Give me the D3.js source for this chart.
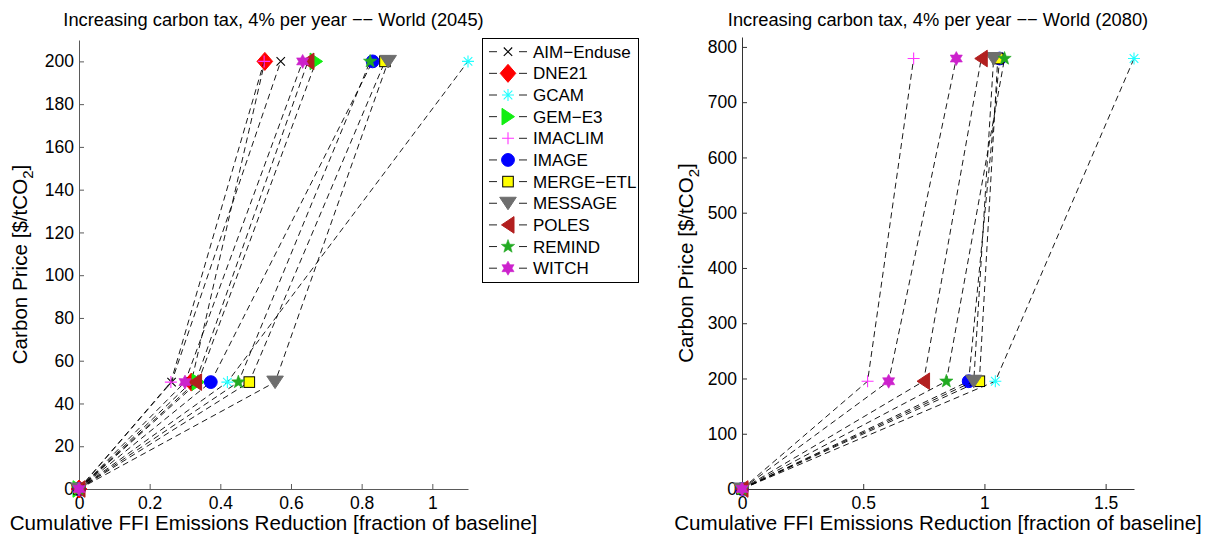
<!DOCTYPE html>
<html>
<head>
<meta charset="utf-8">
<script src="https://cdn.jsdelivr.net/npm/d3@7"></script>
<style>
    body { margin: 0; background: #fff; }
    text { font-family: "Liberation Sans", Arial, sans-serif; fill: #000; }
</style>
</head>
<body>
<svg id="canvas" width="1217" height="535"></svg>
<script>
// models and their legend order
var models = ["AIM−Enduse", "DNE21", "GCAM", "GEM−E3", "IMACLIM", "IMAGE", "MERGE−ETL", "MESSAGE", "POLES", "REMIND", "WITCH"];

// 2045 panel: carbon price and cumulative reduction per model
var prices2045 = [0, 50, 200];
var cut2045Low = [0.262, 0.318, 0.420, 0.337, 0.260, 0.373, 0.482, 0.555, 0.330, 0.451, 0.300];
var cut2045High = [0.571, 0.526, 1.101, 0.671, 0.524, 0.831, 0.866, 0.875, 0.648, 0.824, 0.633];

// 2080 panel: only some models run that far
var models2080 = ["GCAM", "IMACLIM", "IMAGE", "MERGE−ETL", "MESSAGE", "POLES", "REMIND", "WITCH"];
var prices2080 = [0, 195, 779];
var cut2080Low = [1.045, 0.518, 0.935, 0.979, 0.956, 0.749, 0.843, 0.605];
var cut2080High = [1.617, 0.708, 1.063, 1.055, 1.038, 0.987, 1.083, 0.884];

var xTicks2045 = [0, 0.2, 0.4, 0.6, 0.8, 1];
var yTicks2045 = [0, 20, 40, 60, 80, 100, 120, 140, 160, 180, 200];
var xTicks2080 = [0, 0.5, 1, 1.5];
var yTicks2080 = [0, 100, 200, 300, 400, 500, 600, 700, 800];

var titles = ["Increasing carbon tax, 4% per year \u2212\u2212 World (2045)", "Increasing carbon tax, 4% per year \u2212\u2212 World (2080)"];
var xLabel = "Cumulative FFI Emissions Reduction [fraction of baseline]";

// marker style per model (matlab like)
var markerStyle = {
    "AIM−Enduse": {shape: "x", color: "#000000"},
    "DNE21": {shape: "d", color: "#ff0000"},
    "GCAM": {shape: "*", color: "#22ffff"},
    "GEM−E3": {shape: ">", color: "#11ee11"},
    "IMACLIM": {shape: "+", color: "#ff33ff"},
    "IMAGE": {shape: "o", color: "#0000ff"},
    "MERGE−ETL": {shape: "s", color: "#ffff00"},
    "MESSAGE": {shape: "v", color: "#6e6e6e"},
    "POLES": {shape: "<", color: "#b21f1f"},
    "REMIND": {shape: "p", color: "#22aa22"},
    "WITCH": {shape: "h", color: "#cc22cc"}
};

var svg = d3.select("#canvas");

function starPoints(n, rOut, rIn) {
    var pts = [];
    for (var i = 0; i < 2 * n; i++) {
        var r = (i % 2 === 0) ? rOut : rIn;
        var a = -Math.PI / 2 + i * Math.PI / n;
        pts.push([r * Math.cos(a), r * Math.sin(a)]);
    }
    return "M" + pts.map(function (p) { return p[0].toFixed(2) + "," + p[1].toFixed(2); }).join("L") + "Z";
}

function drawMarker(parent, name, cx, cy) {
    var st = markerStyle[name];
    var g = parent.append("g").attr("transform", "translate(" + cx + "," + cy + ")");
    var c = st.color;
    if (st.shape === "x") {
        g.append("path").attr("d", "M-4.2,-4.2L4.2,4.2M-4.2,4.2L4.2,-4.2")
            .attr("stroke", c).attr("stroke-width", 1.1).attr("fill", "none");
    } else if (st.shape === "+") {
        g.append("path").attr("d", "M-6,0L6,0M0,-6L0,6")
            .attr("stroke", c).attr("stroke-width", 1.1).attr("fill", "none");
    } else if (st.shape === "*") {
        g.append("path").attr("d", "M-6,0L6,0M0,-6L0,6M-4.3,-4.3L4.3,4.3M-4.3,4.3L4.3,-4.3")
            .attr("stroke", c).attr("stroke-width", 1.1).attr("fill", "none");
    } else if (st.shape === "d") {
        g.append("path").attr("d", "M0,-9L7.8,0L0,9L-7.8,0Z").attr("fill", c).attr("stroke", c);
    } else if (st.shape === ">") {
        g.append("path").attr("d", "M6.5,0L-6,-8.3L-6,8.3Z").attr("fill", c).attr("stroke", c);
    } else if (st.shape === "<") {
        g.append("path").attr("d", "M-6.5,0L6,-8.3L6,8.3Z").attr("fill", c).attr("stroke", c);
    } else if (st.shape === "v") {
        g.append("path").attr("d", "M-8.3,-6L8.3,-6L0,6.5Z").attr("fill", c).attr("stroke", c);
    } else if (st.shape === "o") {
        g.append("circle").attr("r", 6.4).attr("fill", c).attr("stroke", c);
    } else if (st.shape === "s") {
        g.append("rect").attr("x", -5.3).attr("y", -5.3).attr("width", 10.6).attr("height", 10.6)
            .attr("fill", c).attr("stroke", "#000").attr("stroke-width", 1);
    } else if (st.shape === "p") {
        g.append("path").attr("d", starPoints(5, 7, 2.9)).attr("fill", c).attr("stroke", c).attr("stroke-width", 0.6);
    } else if (st.shape === "h") {
        g.append("path").attr("d", starPoints(6, 7, 4)).attr("fill", c).attr("stroke", c).attr("stroke-width", 0.6);
    }
}

function drawPanel(opt) {
    var maxX = d3.max(opt.high);
    var maxY = d3.max(opt.prices) * 1.05;
    var x = d3.scaleLinear().domain([0, maxX]).range([opt.left, opt.right]);
    var y = d3.scaleLinear().domain([0, maxY]).range([489, opt.top]);
    var panel = svg.append("g");

    var xAxis = panel.append("g").attr("transform", "translate(0,489)")
        .call(d3.axisBottom(x).tickValues(opt.xTicks).tickFormat(d3.format("~g"))
            .tickSizeInner(-5).tickSizeOuter(0).tickPadding(8));
    var yAxis = panel.append("g").attr("transform", "translate(" + opt.left + ",0)")
        .call(d3.axisLeft(y).tickValues(opt.yTicks).tickFormat(d3.format("~g"))
            .tickSizeInner(-5).tickSizeOuter(0).tickPadding(5));
    [xAxis, yAxis].forEach(function (a) {
        a.select(".domain").attr("stroke", opt.axisColor);
        a.selectAll(".tick line").attr("stroke", opt.axisColor);
        a.selectAll("text").style("font-size", "17.5px").attr("fill", "#000");
    });

    panel.append("text").attr("x", (opt.left + opt.right) / 2).attr("y", 26)
        .attr("text-anchor", "middle").style("font-size", "18.3px").text(opt.title);
    panel.append("text").attr("x", (opt.left + opt.right) / 2).attr("y", 530)
        .attr("text-anchor", "middle").style("font-size", "20.6px").text(xLabel);

    var yl = panel.append("text")
        .attr("transform", "translate(" + opt.ylabelX + "," + (489 + opt.top) / 2 + ") rotate(-90)")
        .attr("text-anchor", "middle").style("font-size", "20.6px");
    yl.append("tspan").text("Carbon Price [$/tCO");
    yl.append("tspan").attr("dy", 6).style("font-size", "15px").text("2");
    yl.append("tspan").attr("dy", -6).text("]");

    var line = d3.line().x(function (d) { return x(d[0]); }).y(function (d) { return y(d[1]); });
    opt.models.forEach(function (m, i) {
        var pts = [[0, opt.prices[0]], [opt.low[i], opt.prices[1]], [opt.high[i], opt.prices[2]]];
        var g = panel.append("g").attr("class", "model-series");
        g.append("path").attr("d", line(pts)).attr("fill", "none")
            .attr("stroke", "#000").attr("stroke-width", 0.9).attr("stroke-dasharray", "6,4");
        pts.forEach(function (p) {
            drawMarker(g, m, x(p[0]), y(p[1]));
        });
    });
}

drawPanel({
    left: 79, right: 468, top: 40, ylabelX: 27, axisColor: "#5a5a5a",
    models: models, prices: prices2045, low: cut2045Low, high: cut2045High,
    xTicks: xTicks2045, yTicks: yTicks2045, title: titles[0]
});

drawPanel({
    left: 742, right: 1134, top: 37, ylabelX: 693, axisColor: "#333",
    models: models2080, prices: prices2080, low: cut2080Low, high: cut2080High,
    xTicks: xTicks2080, yTicks: yTicks2080, title: titles[1]
});

// legend box
var legend = svg.append("g").attr("class", "legend");
legend.append("rect").attr("x", 482.5).attr("y", 38.5).attr("width", 156).attr("height", 244)
    .attr("fill", "#fff").attr("stroke", "#000").attr("stroke-width", 1);
models.forEach(function (m, i) {
    var ly = 51.7 + i * 21.65;
    legend.append("path").attr("d", "M489," + ly + "L497," + ly + "M519," + ly + "L527," + ly)
        .attr("stroke", "#222").attr("stroke-width", 1);
    drawMarker(legend, m, 508, ly);
    legend.append("text").attr("x", 533).attr("y", ly).attr("dy", "0.36em")
        .style("font-size", "17px").text(m);
});
</script>
</body>
</html>
